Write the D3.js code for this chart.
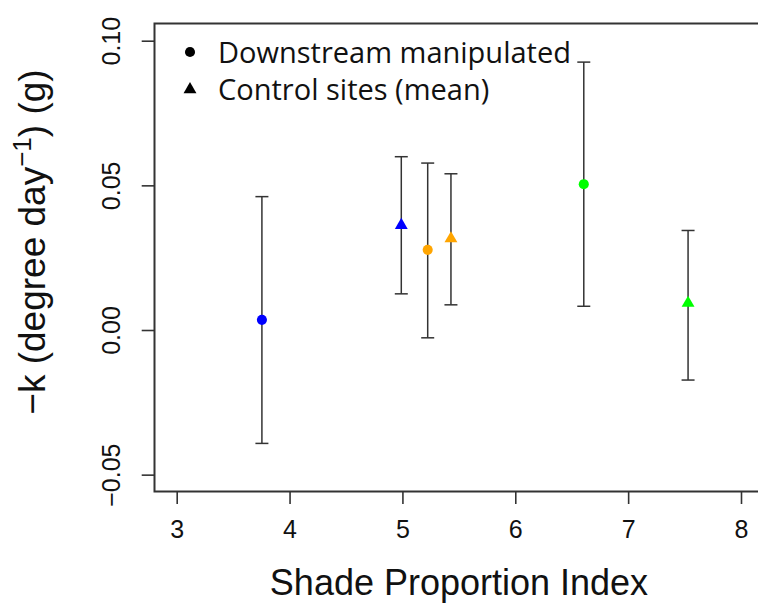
<!DOCTYPE html>
<html>
<head>
<meta charset="utf-8">
<script src="https://cdn.jsdelivr.net/npm/d3@7"></script>
<style>
  html, body { margin: 0; padding: 0; background: #fff; }
  svg { display: block; }
</style>
</head>
<body>
<svg id="chart" width="758" height="604"></svg>
<script>
// Site groups: shade proportion index, decay rate estimate and its interval
const groups = ["Blue downstream", "Blue control", "Orange downstream", "Orange control", "Green downstream", "Green control"];
const shadeIndex = [3.755, 4.99, 5.224, 5.43, 6.607, 7.531];
const kValue    = [0.0035, 0.0362, 0.0277, 0.0316, 0.0504, 0.0093];
const kLower    = [-0.0392, 0.0125, -0.0027, 0.0087, 0.0082, -0.0173];
const kUpper    = [0.0461, 0.0599, 0.0577, 0.0540, 0.0926, 0.0344];
const siteType  = ["downstream", "control", "downstream", "control", "downstream", "control"];
const siteColor = ["#0000ff", "#0000ff", "#ffa500", "#ffa500", "#00ff00", "#00ff00"];

const xTicks = [3, 4, 5, 6, 7, 8];
const yTicks = [-0.05, 0.00, 0.05, 0.10];
const legendLabels = ["Downstream manipulated", "Control sites (mean)"];
const legendTypes = ["downstream", "control"];

const svg = d3.select("#chart");
const axisFont = "'Liberation Sans', Arial, sans-serif";
const legendFont = "'Open Sans', 'Noto Sans', sans-serif";

// plotting region
const box = { left: 154.5, top: 23.5, bottom: 491.5, right: 770 };

const x = d3.scaleLinear().domain([3, 8]).range([176.7, 741]);
const y = d3.scaleLinear().domain([0, 0.1]).range([330, 40.7]);

const data = groups.map((g, i) => ({
  name: g, x: shadeIndex[i], k: kValue[i], lo: kLower[i], hi: kUpper[i],
  type: siteType[i], color: siteColor[i]
}));

// frame around the plot (right side runs past the canvas edge)
svg.append("rect")
  .attr("x", box.left).attr("y", box.top)
  .attr("width", box.right - box.left).attr("height", box.bottom - box.top)
  .attr("fill", "none").attr("stroke", "#333").attr("stroke-width", 2);

// x axis
const xAxis = d3.axisBottom(x).tickValues(xTicks).tickFormat(d3.format("d"))
  .tickSize(12.5).tickPadding(6);
const gx = svg.append("g").attr("transform", `translate(0,${box.bottom})`).call(xAxis);
gx.select(".domain").remove();
gx.selectAll(".tick line").attr("stroke", "#333").attr("stroke-width", 1.6);
gx.selectAll(".tick text")
  .attr("font-family", axisFont).attr("font-size", 25).attr("fill", "#111")
  .attr("dy", "0.71em").attr("y", 29);

// y axis with rotated labels
const yAxis = d3.axisLeft(y).tickValues(yTicks).tickFormat(d3.format(".2f"))
  .tickSize(12.8).tickPadding(6);
const gy = svg.append("g").attr("transform", `translate(${box.left},0)`).call(yAxis);
gy.select(".domain").remove();
gy.selectAll(".tick line").attr("stroke", "#333").attr("stroke-width", 1.6);
gy.selectAll(".tick text")
  .attr("font-family", axisFont).attr("font-size", 25).attr("fill", "#111")
  .attr("x", null).attr("dy", null)
  .attr("text-anchor", "middle")
  .attr("transform", "translate(-35,0) rotate(-90)")
  .text(d => d3.format(".2f")(d).replace("-", "\u2212"));

// error bars
const cap = 6.5;
const bars = svg.append("g").attr("stroke", "#333").attr("stroke-width", 1.5).attr("fill", "none");
bars.selectAll("line.stem").data(data).join("line").attr("class", "stem")
  .attr("x1", d => x(d.x)).attr("x2", d => x(d.x))
  .attr("y1", d => y(d.lo)).attr("y2", d => y(d.hi));
bars.selectAll("line.top").data(data).join("line").attr("class", "top")
  .attr("x1", d => x(d.x) - cap).attr("x2", d => x(d.x) + cap)
  .attr("y1", d => y(d.hi)).attr("y2", d => y(d.hi));
bars.selectAll("line.bot").data(data).join("line").attr("class", "bot")
  .attr("x1", d => x(d.x) - cap).attr("x2", d => x(d.x) + cap)
  .attr("y1", d => y(d.lo)).attr("y2", d => y(d.lo));

// point markers: circles for downstream sites, triangles for control means
const circleSym = d3.symbol().type(d3.symbolCircle).size(80);
const triSym = d3.symbol().type(d3.symbolTriangle).size(72);
svg.append("g").selectAll("path").data(data).join("path")
  .attr("transform", d => `translate(${x(d.x)},${y(d.k)})`)
  .attr("d", d => d.type === "control" ? triSym() : circleSym())
  .attr("fill", d => d.color);

// legend
const legend = svg.append("g");
legendLabels.forEach((label, i) => {
  const ly = 52 + i * 37.5;
  legend.append("path")
    .attr("transform", `translate(190,${ly})`)
    .attr("d", legendTypes[i] === "control" ? triSym() : circleSym())
    .attr("fill", "#000");
  legend.append("text")
    .attr("x", 218).attr("y", ly + 10.5)
    .attr("font-family", legendFont).attr("font-size", 29).attr("fill", "#111")
    .text(label);
});

// axis titles
svg.append("text")
  .attr("x", 459).attr("y", 595)
  .attr("text-anchor", "middle")
  .attr("font-family", axisFont).attr("font-size", 36).attr("fill", "#111")
  .text("Shade Proportion Index");

const yTitle = svg.append("text")
  .attr("transform", "translate(45,242) rotate(-90)")
  .attr("text-anchor", "middle")
  .attr("font-family", axisFont).attr("font-size", 37).attr("fill", "#111");
yTitle.append("tspan").text("\u2212k (degree day");
yTitle.append("tspan").attr("font-size", 26).attr("dy", -14).text("\u22121");
yTitle.append("tspan").attr("dy", 14).text(") (g)");
</script>
</body>
</html>
